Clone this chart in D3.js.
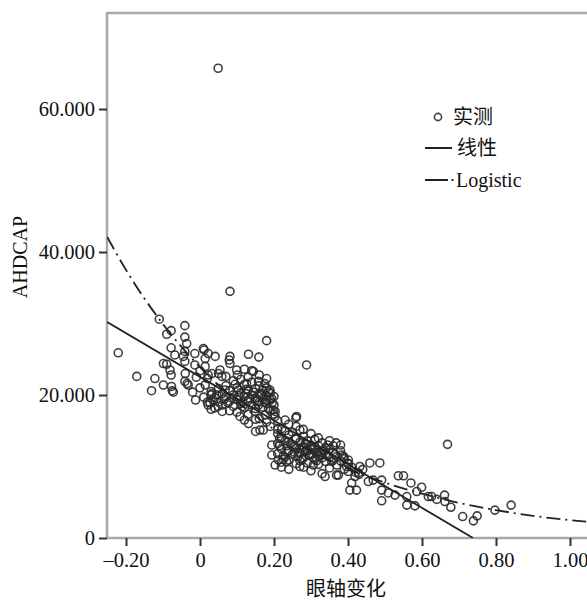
<!DOCTYPE html>
<html><head><meta charset="utf-8">
<script src="https://cdn.jsdelivr.net/npm/d3@7"></script>
<style>
html,body{margin:0;padding:0;background:#fff;}
svg{display:block;}
</style>
</head><body>
<svg id="chart" width="587" height="602"></svg>
<script>
// ---------------- DATA ----------------
const xTicks = [-0.2, 0, 0.2, 0.4, 0.6, 0.8, 1.0];
const yTicks = [0, 20, 40, 60];
const xTitle = "眼轴变化";
const yTitle = "AHDCAP";
const legendLabels = ["实测", "线性", "Logistic"];

// observed points (眼轴变化, AHDCAP)
const obsX = [
  0.049, 0.081,
  -0.221,-0.110,-0.090,-0.078,-0.041,-0.041,-0.036,-0.041,-0.078,-0.068,-0.041,-0.014,0.009,-0.014,
  -0.099,-0.090,-0.081,-0.078,-0.171,-0.122,-0.099,-0.077,-0.131,-0.072,-0.075,-0.041,-0.032,-0.035,
  -0.012,0.014,0.014,0.022,0.014,0.030,0.027,-0.040,-0.045,
  0.011,0.022,0.041,0.081,0.079,0.099,0.131,0.159,0.180,0.180,0.144,0.108,0.131,0.150,0.171,0.081,
  0.101,0.054,0.059,0.032,0.126,0.158,0.189,0.194,0.180,0.149,0.104,0.068,0.032,0.022,0.049,0.120,
  0.149,0.198,0.203,0.261,0.288,0.140,
  0.03,0.04,0.05,0.05,0.06,0.06,0.07,0.07,0.08,0.08,0.09,0.09,0.10,0.10,0.11,0.11,0.12,0.12,0.12,
  0.13,0.13,0.14,0.14,0.14,0.15,0.15,0.15,0.16,0.16,0.16,0.17,0.17,0.17,0.18,0.18,0.18,0.19,0.19,
  0.19,0.20,0.20,0.20,0.04,0.02,0.03,0.06,0.10,0.13,0.16,0.18,0.19,0.21,0.21,0.11,0.13,0.16,0.09,
  0.07,0.12,0.05,0.02,0.00,-0.01,0.00,-0.02,0.01,0.08,0.15,0.035,0.045,0.085,0.095,0.115,0.125,0.165,0.175,
  0.105,0.135,0.145,0.155,0.165,0.175,0.185,0.195,0.115,0.125,0.065,0.075,
  0.259,0.279,0.368,0.162,0.203,0.203,0.212,0.270,0.338,0.369,0.396,0.410,0.306,0.234,0.194,0.194,
  0.239,0.329,0.356,0.383,0.401,0.284,0.257,0.221,0.176,0.158,0.185,
  0.21,0.21,0.21,0.22,0.22,0.22,0.23,0.23,0.23,0.24,0.24,0.24,0.25,0.25,0.25,0.26,0.26,0.26,0.27,
  0.27,0.27,0.28,0.28,0.28,0.29,0.29,0.29,0.30,0.30,0.30,0.31,0.31,0.31,0.32,0.32,0.32,0.33,0.33,
  0.33,0.34,0.34,0.34,0.35,0.35,0.35,0.36,0.36,0.37,0.37,0.38,0.38,0.39,0.39,0.40,0.41,0.42,0.43,
  0.44,0.22,0.24,0.28,0.30,0.33,0.26,0.24,0.23,0.27,0.30,0.32,0.35,0.36,0.38,0.215,0.225,0.245,0.265,
  0.275,0.285,0.295,0.305,0.315,0.325,
  0.235,0.255,0.265,0.285,0.305,0.335,0.345,0.215,0.225,0.255,0.275,0.295,0.315,0.345,0.365,0.235,
  0.459,0.486,0.536,0.550,0.570,0.599,0.586,0.626,0.491,0.491,0.509,0.527,0.559,0.559,0.581,0.405,
  0.423,0.419,0.455,0.468,0.491,0.432,0.428,0.401,0.374,0.388,0.401,
  0.669,0.617,0.640,0.661,0.662,0.678,0.710,0.739,0.749,0.797,0.841
];
const obsY = [
  65.7, 34.5,
  25.9,30.6,28.5,29.0,29.7,28.1,27.2,26.1,26.6,25.6,24.7,25.8,26.5,24.2,
  24.4,24.3,23.5,22.8,22.6,22.3,21.4,21.2,20.6,20.4,20.6,21.9,21.4,21.6,
  19.3,25.1,24.0,22.8,21.4,20.0,18.9,23.0,25.4,
  26.3,25.8,25.4,25.4,24.9,23.5,25.7,25.3,27.6,22.3,23.3,17.0,16.0,14.9,15.1,24.4,
  22.8,23.5,22.6,23.0,21.6,21.9,20.7,19.5,19.3,19.3,20.7,20.7,20.2,18.6,18.4,16.5,
  17.7,17.9,17.0,17.0,24.2,23.4,
  20.5,19.6,20.9,19.0,20.2,18.6,19.8,21.3,19.1,20.6,18.4,20.0,19.4,21.0,20.3,18.8,19.8,21.5,18.2,
  20.6,19.2,20.0,18.6,21.8,19.6,20.9,18.1,20.2,19.0,21.3,19.5,18.3,20.7,19.9,18.8,21.0,19.3,17.8,
  20.3,18.6,19.8,17.3,18.2,19.0,18.0,17.7,17.6,17.3,16.7,16.2,15.6,16.4,15.2,22.2,22.5,22.8,22.0,
  22.6,23.6,23.0,22.3,21.0,22.5,23.4,20.4,19.7,17.8,16.6,19.3,20.0,19.6,21.5,19.0,20.8,19.9,21.6,
  19.9,19.5,20.4,19.2,20.1,19.0,20.5,18.9,18.4,20.2,19.4,18.9,
  16.8,15.2,13.3,15.1,17.7,10.2,10.9,10.0,8.6,8.8,10.0,7.7,10.2,10.7,11.6,13.0,
  13.5,11.6,10.7,11.6,10.9,12.1,13.9,15.3,17.2,18.6,18.1,
  14.6,13.2,11.8,12.5,14.0,10.6,13.6,11.3,15.0,12.2,14.4,10.9,13.0,11.7,14.8,12.6,10.4,13.9,11.9,
  13.4,10.8,12.8,11.2,14.2,12.3,13.6,10.5,11.8,13.0,12.4,11.0,12.7,13.8,11.5,12.9,10.3,12.1,11.2,
  13.3,11.8,10.7,12.6,11.3,12.4,9.8,10.9,12.0,11.4,10.2,10.8,12.2,11.1,9.6,10.4,9.9,9.2,8.9,
  9.6,9.9,9.6,9.9,9.4,9.0,15.6,15.9,16.5,15.1,14.6,14.0,13.6,12.9,13.0,12.9,11.5,13.2,12.0,
  11.0,13.1,11.6,12.5,10.8,11.9,
  12.9,12.0,11.4,13.2,11.3,12.3,11.5,13.9,11.0,12.8,12.6,11.6,12.0,13.0,11.7,12.1,
  10.5,10.5,8.7,8.7,7.7,7.1,6.5,5.8,6.7,5.2,6.3,6.0,5.8,4.6,4.5,6.7,
  6.7,8.6,7.9,8.1,8.1,10.0,9.1,9.3,8.8,11.4,10.4,
  13.1,5.8,5.4,6.0,5.1,4.3,3.0,2.4,3.1,3.9,4.6
];

// fitted linear line
const linX = [-0.251, 0.738];
const linY = [30.2, 0.0];

// fitted logistic curve
const logX = [-0.251,-0.2,-0.1,0,0.1,0.2,0.3,0.4,0.5,0.6,0.7,0.8,0.9,1.0,1.06];
const logY = [42.1,37.5,29.9,23.9,19.1,15.2,12.2,9.7,7.75,6.2,4.9,3.9,3.1,2.5,2.2];

// ---------------- LAYOUT ----------------
const L = 107, T = 13, R = 592, B = 538;
const svg = d3.select("#chart");
const serif = "'Liberation Serif','Times New Roman',serif";
const cjk = "'Noto Sans CJK SC','Liberation Serif',serif";

const x = d3.scaleLinear().domain([-0.2514, 1.0595]).range([L, R]);
const y = d3.scaleLinear().domain([0, 73.43]).range([B, T]);

svg.append("defs").append("clipPath").attr("id","clip")
  .append("rect").attr("x",L).attr("y",T).attr("width",R-L).attr("height",B-T);

// frame
svg.append("rect").attr("x",L).attr("y",T).attr("width",R-L).attr("height",B-T)
  .attr("fill","none").attr("stroke","#a8a8a8").attr("stroke-width",2.5);

// axes
const fmtX = d => d === 0 ? "0" : (d < 0 ? "–" : "") + d3.format(".2f")(Math.abs(d));
const fmtY = d => d === 0 ? "0" : d3.format(".3f")(d);

const gx = svg.append("g").attr("transform",`translate(0,${B})`)
  .call(d3.axisBottom(x).tickValues(xTicks).tickFormat(fmtX).tickSize(8).tickPadding(6));
const gy = svg.append("g").attr("transform",`translate(${L},0)`)
  .call(d3.axisLeft(y).tickValues(yTicks).tickFormat(fmtY).tickSize(8).tickPadding(4));
[gx, gy].forEach(g => {
  g.select(".domain").remove();
  g.selectAll(".tick line").attr("stroke","#333").attr("stroke-width",2);
  g.selectAll(".tick text").attr("fill","#111").style("font-family",serif).style("font-size","20.5px");
});

// data layer
const plot = svg.append("g").attr("clip-path","url(#clip)");

const pts = obsX.map((v,i) => [v, obsY[i]]);
plot.append("g").selectAll("circle").data(pts).join("circle")
  .attr("cx", d => x(d[0])).attr("cy", d => y(d[1])).attr("r", 4)
  .attr("fill","none").attr("stroke","#2a2a2a").attr("stroke-width",1.6).attr("stroke-opacity",0.9);

const line = d3.line().x(d => x(d[0])).y(d => y(d[1]));
plot.append("path").datum(linX.map((v,i)=>[v,linY[i]]))
  .attr("d", line).attr("fill","none").attr("stroke","#222").attr("stroke-width",1.8);

const curve = d3.line().x(d => x(d[0])).y(d => y(d[1])).curve(d3.curveMonotoneX);
plot.append("path").datum(logX.map((v,i)=>[v,logY[i]]))
  .attr("d", curve).attr("fill","none").attr("stroke","#222").attr("stroke-width",1.8)
  .attr("stroke-dasharray","14,5,2,5");

// titles
svg.append("text").attr("x",346).attr("y",596).attr("text-anchor","middle")
  .style("font-family",cjk).style("font-size","20px").attr("fill","#111").text(xTitle);
svg.append("text").attr("transform","translate(27,257) rotate(-90)").attr("text-anchor","middle")
  .style("font-family",serif).style("font-size","20px").attr("fill","#111").text(yTitle);

// legend
const lg = svg.append("g");
lg.append("circle").attr("cx",438).attr("cy",117).attr("r",3.6)
  .attr("fill","none").attr("stroke","#444").attr("stroke-width",1.6);
lg.append("line").attr("x1",425).attr("x2",452).attr("y1",148).attr("y2",148)
  .attr("stroke","#222").attr("stroke-width",2);
lg.append("line").attr("x1",425).attr("x2",448).attr("y1",180).attr("y2",180)
  .attr("stroke","#222").attr("stroke-width",2);
lg.append("line").attr("x1",451.5).attr("x2",453.5).attr("y1",180).attr("y2",180)
  .attr("stroke","#222").attr("stroke-width",2);
const lt = [[453,124,legendLabels[0],cjk],[457,155,legendLabels[1],cjk],[456,187,legendLabels[2],serif]];
lt.forEach(([tx,ty,t,f]) => lg.append("text").attr("x",tx).attr("y",ty)
  .style("font-family",f).style("font-size", f===cjk ? "20px" : "20px").attr("fill","#111").text(t));
</script>
</body></html>
